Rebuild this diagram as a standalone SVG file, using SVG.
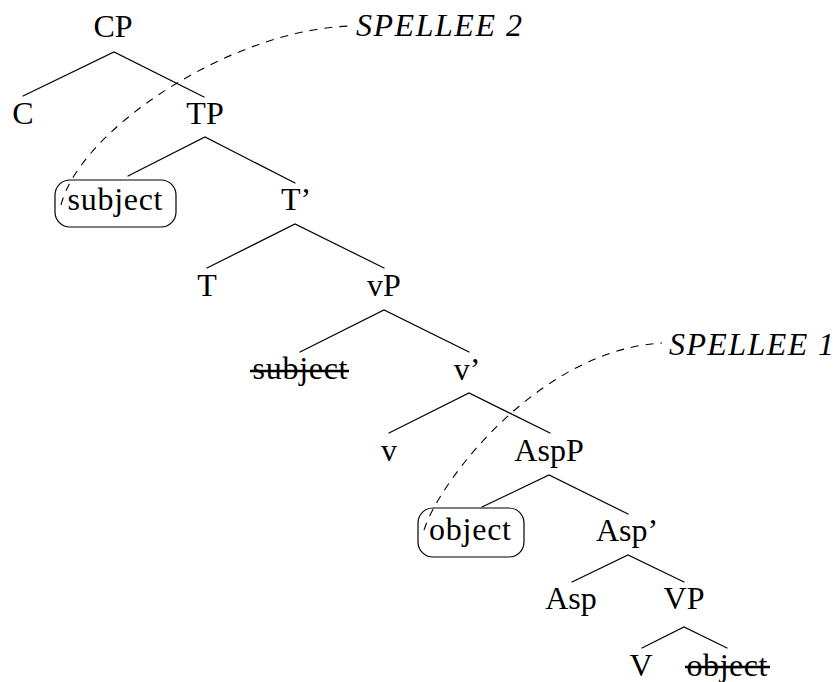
<svg xmlns="http://www.w3.org/2000/svg" width="836" height="682" viewBox="0 0 836 682">
<style>
  text { font-family: "Liberation Serif", "Times New Roman", Tinos, "Noto Serif", "DejaVu Serif", FreeSerif, Georgia, serif; font-size: 32px; fill: #000; }
  .m { text-anchor: middle; }
  .it { font-style: italic; }
  .edge { stroke: #000; stroke-width: 1.2; fill: none; stroke-linecap: round; }
  .dash { stroke: #000; stroke-width: 1.1; fill: none; stroke-dasharray: 8 7; }
  .box { fill: none; stroke: #000; stroke-width: 1.2; }
  .strike { stroke: #000; stroke-width: 2.4; }
</style>
<rect width="836" height="682" fill="#fff"/>
<g id="connectors">
  <polyline class="edge" points="23,96 114,52 204,97"/>
  <polyline class="edge" points="128,176 205,137 295,183"/>
  <polyline class="edge" points="207,268 295,224 384,268"/>
  <polyline class="edge" points="300,352 384,310 469,352"/>
  <polyline class="edge" points="389,433 469,393 550,433"/>
  <polyline class="edge" points="482,507 549,475 628,514"/>
  <polyline class="edge" points="572,582 628,555 684,582"/>
  <polyline class="edge" points="642,648 684,627 727,648"/>
  <path class="dash" d="M61,205 C80,130 230,30 350,26"/>
  <path class="dash" d="M424,530 C440,480 540,350 662,343"/>
</g>
<g id="CP"><text class="m" x="113" y="37">CP</text></g>
<g id="C"><text class="m" x="23" y="124">C</text></g>
<g id="TP"><text class="m" x="205" y="124">TP</text></g>
<g id="subject-moved">
  <rect class="box" x="55" y="180" width="121" height="47" rx="15" ry="15"/>
  <text class="m" x="115" y="210" textLength="95" lengthAdjust="spacing">subject</text>
</g>
<g id="Tbar"><text class="m" x="296" y="210">T’</text></g>
<g id="T"><text class="m" x="207" y="296">T</text></g>
<g id="vP"><text class="m" x="384" y="296">vP</text></g>
<g id="subject-trace">
  <text class="m" x="300" y="379" textLength="95" lengthAdjust="spacing">subject</text>
  <line class="strike" x1="250" y1="371" x2="349" y2="371"/>
</g>
<g id="vbar"><text class="m" x="467" y="380">v’</text></g>
<g id="v"><text class="m" x="389" y="461">v</text></g>
<g id="AspP"><text class="m" x="549" y="461">AspP</text></g>
<g id="object-moved">
  <rect class="box" x="418" y="508" width="106" height="49" rx="15" ry="15"/>
  <text class="m" x="470" y="540" textLength="82" lengthAdjust="spacing">object</text>
</g>
<g id="Aspbar"><text class="m" x="627" y="541">Asp’</text></g>
<g id="Asp"><text class="m" x="571" y="609">Asp</text></g>
<g id="VP"><text class="m" x="684" y="609">VP</text></g>
<g id="V"><text class="m" x="641" y="676">V</text></g>
<g id="object-trace">
  <text class="m" x="727" y="676" textLength="81" lengthAdjust="spacing">object</text>
  <line class="strike" x1="685" y1="667" x2="770" y2="667"/>
</g>
<g id="spellee2"><text class="it" x="356" y="36" textLength="166" lengthAdjust="spacing">SPELLEE 2</text></g>
<g id="spellee1"><text class="it" x="669" y="355" textLength="165" lengthAdjust="spacing">SPELLEE 1</text></g>
</svg>
